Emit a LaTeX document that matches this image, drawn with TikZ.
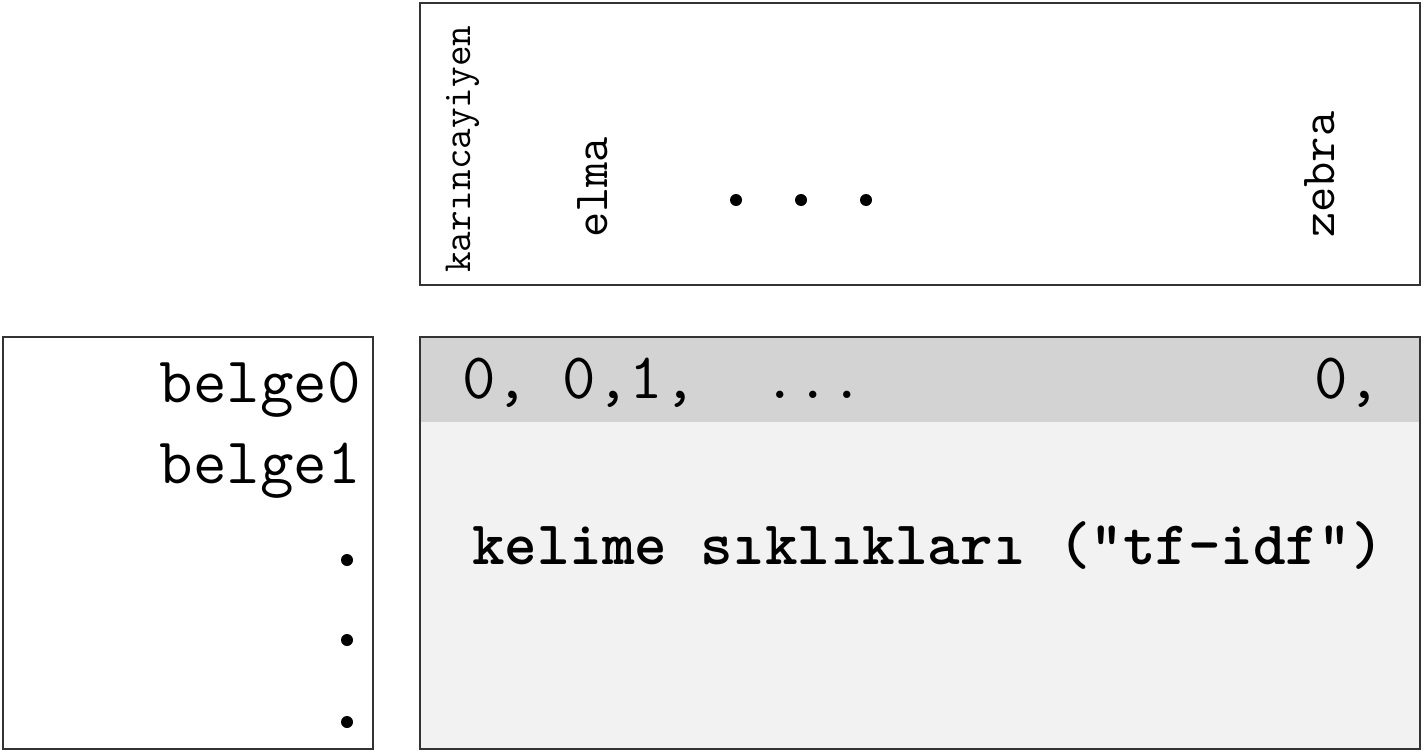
\documentclass[tikz,border=0pt]{standalone}
\usepackage{fontspec}
\definecolor{frame}{HTML}{333333}
\definecolor{headgray}{HTML}{D3D3D3}
\definecolor{bodygray}{HTML}{F2F2F2}
\tikzset{
  boxline/.style={draw=frame, line width=1.6pt},
  big/.style={inner sep=0pt, font=\ttfamily\fontsize{65}{68}\selectfont},
  bigbold/.style={inner sep=0pt, font=\ttfamily\bfseries\fontsize{62}{66}\selectfont},
  vocab/.style={inner sep=0pt, rotate=90, anchor=base west, font=\ttfamily\fontsize{49}{52}\selectfont},
  vocabsmall/.style={inner sep=0pt, rotate=90, anchor=base west, font=\ttfamily\fontsize{40}{44}\selectfont},
  dotmark/.style={fill=black, draw=none},
}
\begin{document}
\begin{tikzpicture}[x=1pt,y=-1pt]
\useasboundingbox (0,0) rectangle (1424,752);
% top vocabulary box
\draw[boxline, fill=white] (420,3) rectangle (1420,285);
\node[vocabsmall] (w0) at (470,273) {karıncayiyen};
\node[vocab] (w1) at (607,238) {elma};
\node[vocab] (wz) at (1334,238) {zebra};
\foreach \x/\n in {736/a,801/b,866/c}
  \fill[dotmark] (\x,200) circle (6pt) coordinate (td\n);
% left document box
\draw[boxline, fill=white] (3,337) rectangle (373,749);
\node[big, anchor=base east] (d0) at (361,402) {belge0};
\node[big, anchor=base east] (d1) at (361,483) {belge1};
\foreach \y/\n in {560/a,640/b,722/c}
  \fill[dotmark] (347,\y) circle (6pt) coordinate (ld\n);
% matrix box
\fill[bodygray] (420,337) rectangle (1420,749);
\fill[headgray] (420,337) rectangle (1420,422);
\draw[boxline] (420,337) rectangle (1420,749);
\node[big, anchor=base west] (r0) at (462,398) {0, 0,1,\ \ ...};
\node[big, anchor=base west] (rz) at (1314,398) {0,};
\node[bigbold, anchor=base west] (tf) at (472,564) {kelime sıklıkları ("tf-idf")};
\end{tikzpicture}
\end{document}
